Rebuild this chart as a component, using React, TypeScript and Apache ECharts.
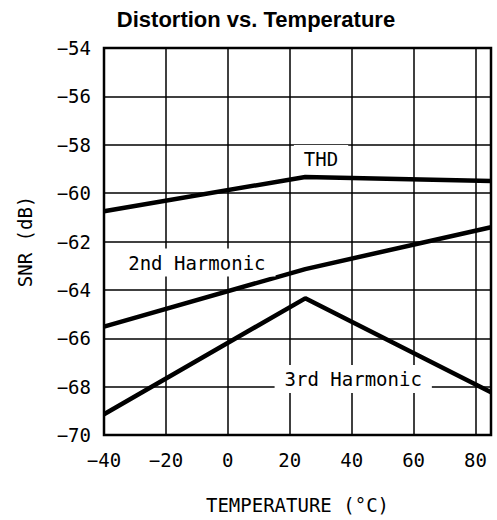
import React, { useEffect, useRef } from "react";
import * as echarts from "echarts";

const temps = [-40, 25, 85];
const thd = [-60.75, -59.33, -59.5];
const harmonic2 = [-65.52, -63.14, -61.41];
const harmonic3 = [-69.14, -64.35, -68.23];

const xTicks = { min: -40, max: 85, interval: 20 };
const yTicks = { min: -70, max: -54, interval: 2 };

const labelTHD = { text: "THD", coord: [30.1, -58.59] };
const label2nd = { text: "2nd Harmonic", coord: [-10, -62.87] };
const label3rd = { text: "3rd Harmonic", coord: [40.5, -67.68] };

const MONO = "'DejaVu Sans Mono', monospace";

function mkSeries(name: string, vals: number[], lab: { text: string; coord: number[] }) {
  return {
    name,
    type: "line",
    data: temps.map((t, i) => [t, vals[i]]),
    symbol: "none",
    lineStyle: { color: "#000", width: 4.5 },
    z: 3,
    markPoint: {
      symbol: "rect",
      symbolSize: 0,
      silent: true,
      z: 5,
      data: [{ coord: lab.coord }],
      label: {
        show: true,
        position: "inside",
        formatter: lab.text,
        color: "#000",
        fontFamily: MONO,
        fontSize: 19,
        backgroundColor: "#fff",
        padding: [5, 10, 4, 10],
      },
    },
  };
}

const fmtNum = (v: number) => String(v).replace("-", "\u2212");

export default function App() {
  const ref = useRef<HTMLDivElement>(null);
  useEffect(() => {
    if (!ref.current) return;
    const chart = echarts.init(ref.current, null, { renderer: "svg" });
    chart.setOption({
      animation: false,
      backgroundColor: "#fff",
      title: {
        text: "Distortion vs. Temperature",
        left: 251,
        textAlign: "center",
        top: 3,
        textStyle: {
          fontFamily: "'Liberation Sans', Arial, sans-serif",
          fontWeight: "bold",
          fontSize: 22,
          color: "#000",
        },
      },
      grid: {
        left: 104,
        right: 6,
        top: 48,
        bottom: 85,
        show: true,
        borderColor: "#000",
        borderWidth: 2.5,
        backgroundColor: "transparent",
      },
      xAxis: {
        type: "value",
        min: xTicks.min,
        max: xTicks.max,
        interval: xTicks.interval,
        name: "TEMPERATURE (°C)",
        nameLocation: "middle",
        nameGap: 60,
        nameTextStyle: { fontFamily: MONO, fontSize: 19, color: "#000" },
        axisLine: { show: false },
        axisTick: { show: false },
        axisLabel: {
          margin: 15,
          fontFamily: MONO,
          fontSize: 19,
          color: "#000",
          formatter: (v: number) => (v === 85 ? "" : fmtNum(v)),
        },
        splitLine: { show: true, lineStyle: { color: "#000", width: 1.5 } },
      },
      yAxis: {
        type: "value",
        min: yTicks.min,
        max: yTicks.max,
        interval: yTicks.interval,
        name: "SNR (dB)",
        nameLocation: "middle",
        nameGap: 70,
        nameTextStyle: { fontFamily: MONO, fontSize: 19, color: "#000" },
        axisLine: { show: false },
        axisTick: { show: false },
        axisLabel: {
          margin: 13,
          fontFamily: MONO,
          fontSize: 19,
          color: "#000",
          formatter: (v: number) => fmtNum(v),
        },
        splitLine: { show: true, lineStyle: { color: "#000", width: 1.5 } },
      },
      series: [
        mkSeries("THD", thd, labelTHD),
        mkSeries("2nd Harmonic", harmonic2, label2nd),
        mkSeries("3rd Harmonic", harmonic3, label3rd),
      ],
    });
    return () => chart.dispose();
  }, []);
  return (
    <div
      ref={ref}
      style={{ position: "absolute", left: 0, top: 0, width: 497, height: 520 }}
    />
  );
}
